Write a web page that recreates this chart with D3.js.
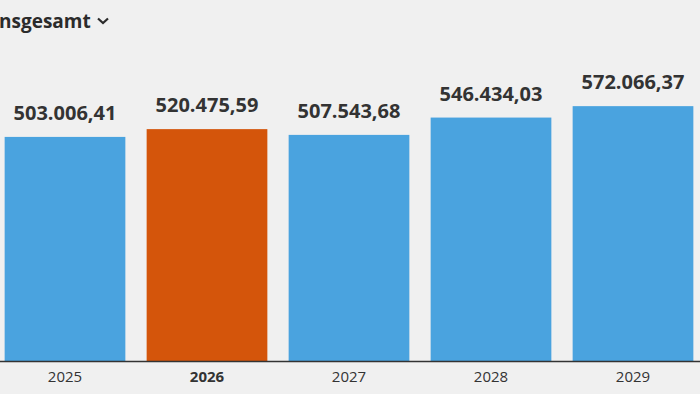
<!DOCTYPE html>
<html>
<head>
<meta charset="utf-8">
<script src="https://cdn.jsdelivr.net/npm/d3@7"></script>
<style>
  html, body { margin: 0; padding: 0; background: #f0f0f0; overflow: hidden; }
  svg { display: block; font-family: "Open Sans", sans-serif; }
</style>
</head>
<body>
<div class="chart"></div>
<script>
// Width and height
const w = 700;
const h = 394;

// data
const years = ["2025", "2026", "2027", "2028", "2029"];
const values = [503006.41, 520475.59, 507543.68, 546434.03, 572066.37];
const highlightYear = "2026";
const title = "nsgesamt";

const blue = "#4aa3df";
const orange = "#d4550b";

const fmt = d3.formatLocale({
  decimal: ",",
  thousands: ".",
  grouping: [3],
  currency: ["", " €"],
}).format(",.2f");

const svg = d3
  .select(".chart")
  .append("svg")
  .attr("width", w)
  .attr("height", h);

svg.append("rect").attr("width", w).attr("height", h).attr("fill", "#f0f0f0");

// scales
const x = d3
  .scaleBand()
  .domain(years)
  .range([-6, 704])
  .paddingInner(0.15)
  .paddingOuter(0.075);

const baseY = 361;
const y = d3.scaleLinear().domain([0, 600000]).range([baseY, baseY - 267.3]);

// bars
svg
  .selectAll(".bar")
  .data(years)
  .enter()
  .append("rect")
  .attr("class", "bar")
  .attr("x", (d) => x(d))
  .attr("width", x.bandwidth())
  .attr("y", (d, i) => y(values[i]))
  .attr("height", (d, i) => y(0) - y(values[i]))
  .attr("fill", (d) => (d === highlightYear ? orange : blue));

// value labels
svg
  .selectAll(".val")
  .data(years)
  .enter()
  .append("text")
  .attr("class", "val")
  .attr("x", (d) => x(d) + x.bandwidth() / 2)
  .attr("y", (d, i) => y(values[i]) - 17)
  .attr("text-anchor", "middle")
  .attr("font-size", 20)
  .attr("font-weight", 700)
  .attr("fill", "#333")
  .text((d, i) => fmt(values[i]));

// x axis
const xAxis = d3.axisBottom(x).tickSize(0).tickPadding(10);
const gx = svg
  .append("g")
  .attr("transform", `translate(0,${baseY})`)
  .call(xAxis);
gx.select(".domain").attr("stroke", "#333").attr("stroke-width", 1.5).attr("d", `M0,0.5H${w}`);
gx.selectAll("text")
  .attr("font-family", "Open Sans, sans-serif")
  .attr("font-size", 15)
  .attr("fill", "#333")
  .attr("font-weight", (d) => (d === highlightYear ? 700 : 400));

// title with dropdown chevron
svg
  .append("text")
  .attr("x", -1)
  .attr("y", 28)
  .attr("font-size", 19)
  .attr("font-weight", 700)
  .attr("fill", "#2b2b2b")
  .text(title);

svg
  .append("path")
  .attr("d", "M98,18.5L103,23L108,18.5")
  .attr("fill", "none")
  .attr("stroke", "#2b2b2b")
  .attr("stroke-width", 2.2);
</script>
</body>
</html>
